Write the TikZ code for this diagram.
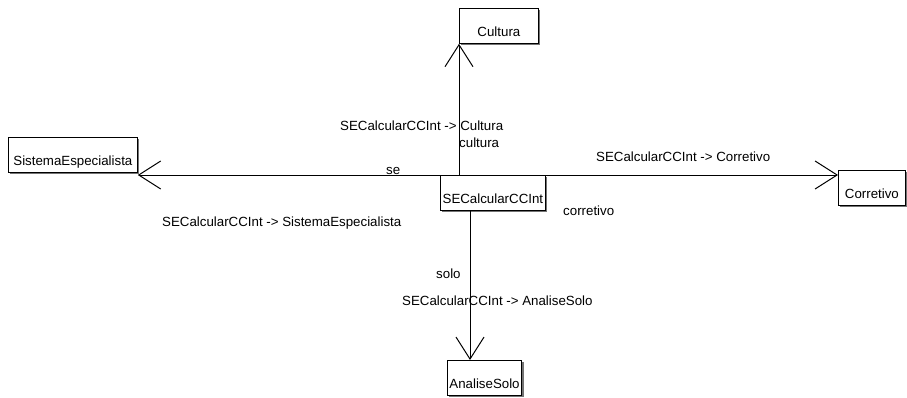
\documentclass[tikz,border=0pt]{standalone}
\usepackage{fontspec}
\setmainfont{Liberation Sans}
\usetikzlibrary{arrows.meta,shadows}
\tikzset{cls/.style={draw,line width=0.8pt,fill=white,anchor=north west,minimum height=35pt,
	inner xsep=2pt,inner ysep=2.5pt,text height=25.5pt,text depth=4.5pt,
	drop shadow={shadow xshift=2pt,shadow yshift=-2pt,fill=black!55,opacity=1}},
	assoc/.style={line width=0.8pt,-{Straight Barb[length=22pt,width=28pt,line width=1pt]}},
	role/.style={anchor=mid west,inner sep=0pt}}
\colorlet{bg}{white}

\begin{document}
\begin{tikzpicture}[x=1pt,y=-1pt,font=\fontsize{13.3}{15}\selectfont]
	    \useasboundingbox[fill=bg] (0,0) rectangle (907,398);
	    \node[cls,minimum width=79pt] (cultura) at (459,8) {Cultura};
	    \node[cls,minimum width=129pt] (sistema) at (8,137) {SistemaEspecialista};
	    \node[cls,minimum width=105pt] (calc) at (440,175) {SECalcularCCInt};
	    \node[cls,minimum width=67pt] (corretivo) at (838,170) {Corretivo};
	    \node[cls,minimum width=73pt] (analise) at (447,360) {AnaliseSolo};
	    % associations
	    \draw[assoc] (cultura.south west |- calc.north) -- (cultura.south west);
	    \draw[assoc] (calc.north west) -- (sistema.east |- calc.north west);
	    \draw[assoc] (calc.north east) -- (corretivo.west |- calc.north east);
	    \draw[assoc] ([xshift=30pt]calc.south west) -- ([xshift=30pt]calc.south west |- analise.north);
	    % labels
	    \node[role] (lcultura) at (340,128) {SECalcularCCInt -> Cultura};
	    \node[role] (rcultura) at (459,145) {cultura};
	    \node[role] (rse) at (386,172) {se};
	    \node[role] (lcorretivo) at (596,159) {SECalcularCCInt -> Corretivo};
	    \node[role] (rcorretivo) at (563,213) {corretivo};
	    \node[role] (lsistema) at (162,224) {SECalcularCCInt -> SistemaEspecialista};
	    \node[role] (rsolo) at (436,276) {solo};
	    \node[role] (lsolo) at (402,303) {SECalcularCCInt -> AnaliseSolo};
        \end{tikzpicture}
\end{document}
